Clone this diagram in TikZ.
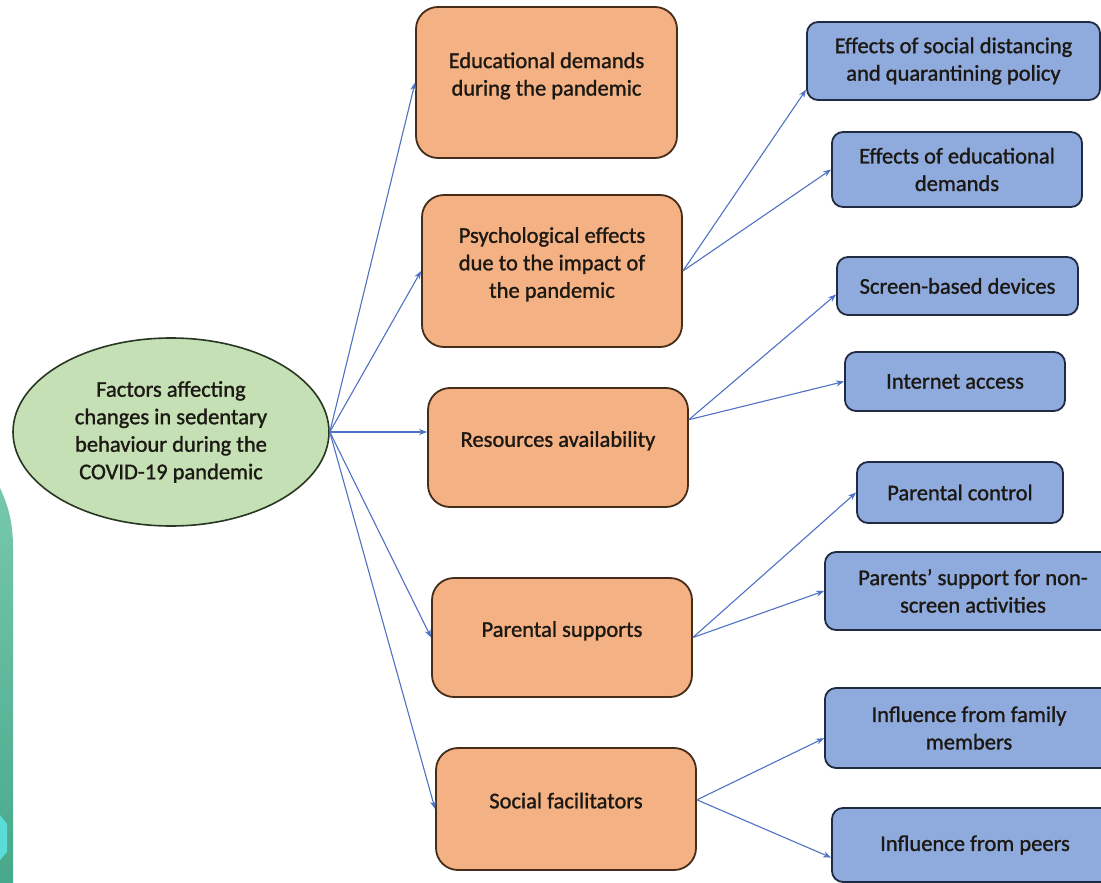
\documentclass[tikz,border=0pt]{standalone}
\usepackage{fontspec}
\setmainfont{Carlito}[BoldFont=Carlito, BoldFeatures={FakeBold=1.2}]
\usetikzlibrary{shapes.geometric,arrows.meta}
\definecolor{orfill}{RGB}{244,177,131}
\definecolor{orline}{RGB}{70,45,25}
\definecolor{blfill}{RGB}{143,170,220}
\definecolor{blline}{RGB}{32,42,66}
\definecolor{grfill}{RGB}{197,224,180}
\definecolor{grline}{RGB}{40,55,35}
\definecolor{arr}{RGB}{79,114,196}
\definecolor{txt}{RGB}{28,24,20}
\definecolor{tealA}{RGB}{118,200,172}
\definecolor{tealB}{RGB}{72,168,138}
\definecolor{cyanH}{RGB}{90,220,215}
\tikzset{
  orbox/.style={draw=orline, line width=1.8pt, fill=orfill, rounded corners=22pt,
    align=center, inner sep=0pt, text=txt, text depth=17pt},
  blbox/.style={draw=blline, line width=1.8pt, fill=blfill, rounded corners=11pt,
    align=center, inner sep=0pt, text=txt},
  root/.style={ellipse, draw=grline, line width=1.6pt, fill=grfill, align=center,
    inner sep=0pt, text=txt},
  conn/.style={draw=arr, line width=1.1pt, -{Stealth[length=8pt,width=6pt]}}
}
\begin{document}
\begin{tikzpicture}[x=1pt,y=-1pt, font=\fontsize{22.5}{27.5}\selectfont\bfseries]
\useasboundingbox (0,0) rectangle (1101,883);
\clip (0,0) rectangle (1101,883);
\fill[white] (0,0) rectangle (1101,883);
% decorative teal strip
\shade[top color=tealA, bottom color=tealB] (0,488) .. controls (8,505) and (13,522) .. (13,548) -- (13,883) -- (0,883) -- cycle;
\fill[cyanH] (0,815) -- (7,824) -- (7,852) -- (0,860) -- cycle;

% root
\node[root, minimum width=316pt, minimum height=188pt] (ell) at (171,432)
  {Factors affecting\\changes in sedentary\\behaviour during the\\COVID-19 pandemic};

% middle (orange)
\node[orbox, minimum width=261pt, minimum height=151pt] (edu) at (546.5,82.5)
  {Educational demands\\during the pandemic};
\node[orbox, minimum width=260pt, minimum height=152pt] (psy) at (552,271)
  {Psychological effects\\due to the impact of\\the pandemic};
\node[orbox, minimum width=260pt, minimum height=119pt] (res) at (558,447.5)
  {Resources availability};
\node[orbox, minimum width=260pt, minimum height=119pt] (par) at (562,637.5)
  {Parental supports};
\node[orbox, minimum width=260pt, minimum height=122pt] (soc) at (566,809)
  {Social facilitators};

% right (blue)
\node[blbox, minimum width=293pt, minimum height=78pt] (sd) at (953.5,61)
  {Effects of social distancing\\and quarantining policy};
\node[blbox, minimum width=250pt, minimum height=75pt] (ed) at (957,169.5)
  {Effects of educational\\demands};
\node[blbox, minimum width=241pt, minimum height=58pt] (scr) at (957.5,286)
  {Screen-based devices};
\node[blbox, minimum width=220pt, minimum height=59pt] (net) at (955,381.5)
  {Internet access};
\node[blbox, minimum width=206pt, minimum height=61pt] (pc) at (960,492.5)
  {Parental control};
\node[blbox, minimum width=296pt, minimum height=78pt] (ps) at (973,591)
  {Parents’ support for non-\\screen activities};
\node[blbox, minimum width=288pt, minimum height=80pt] (fam) at (969,728)
  {Influence from family\\members};
\node[blbox, minimum width=286pt, minimum height=74pt] (peer) at (975,845)
  {Influence from peers};

% connectors
\draw[conn] (ell.east) -- (edu.west);
\draw[conn] (ell.east) -- (psy.west);
\draw[conn] (ell.east) -- (ell.east -| res.west);
\draw[conn] (ell.east) -- (par.west);
\draw[conn] (ell.east) -- (soc.west);

\draw[conn] (psy.east) -- (sd.191);
\draw[conn] (psy.east) -- (ed.west);
\draw[conn] (res.12) -- (scr.184);
\draw[conn] (res.12) -- (net.west);
\draw[conn] (par.east) -- (pc.west);
\draw[conn] (par.east) -- (ps.west);
\draw[conn] (soc.4) -- (fam.184);
\draw[conn] (soc.4) -- (peer.185);
\end{tikzpicture}
\end{document}
